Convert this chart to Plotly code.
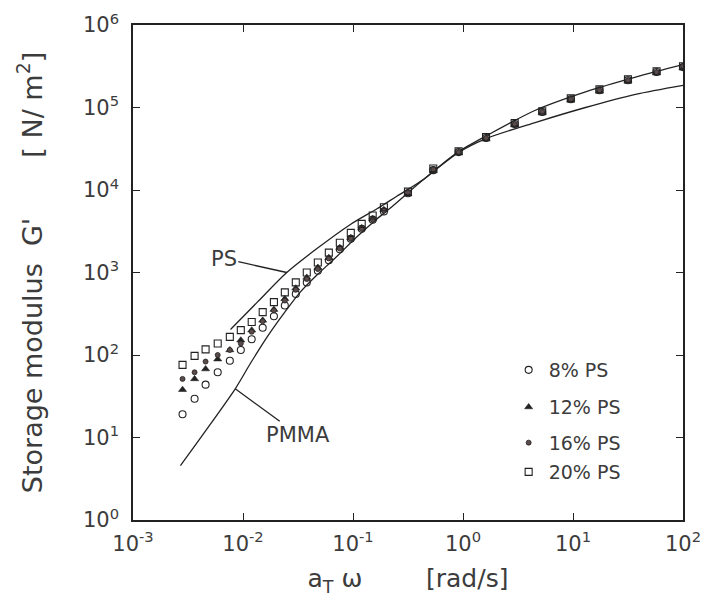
import math
import plotly.graph_objects as go

# ---------------- data ----------------
# model curves
ps_x = [0.0077, 0.0135, 0.025, 0.047, 0.094, 0.164, 0.25, 0.44, 0.6, 0.9, 1.6, 4.6, 13, 37, 100]
ps_y = [204, 437, 1000, 1950, 3800, 5890, 8400, 13500, 19000, 28800, 44700, 93300, 155000, 234000, 331000]

pmma_x = [0.0027, 0.0045, 0.0085, 0.0117, 0.0166, 0.0237, 0.033, 0.047, 0.067, 0.108, 0.164, 0.234,
          0.44, 0.9, 1.6, 4.6, 13, 37, 100]
pmma_y = [4.57, 11.7, 38.9, 79.4, 166, 324, 575, 933, 1445, 2690, 4420, 6530,
          13500, 28200, 41700, 66100, 100000, 144500, 186000]

# measured blends
freq = [0.00282, 0.00363, 0.00457, 0.00589, 0.00759, 0.00955, 0.0120, 0.0151, 0.0191, 0.0240,
        0.0302, 0.0380, 0.0479, 0.0603, 0.0759, 0.0955, 0.120, 0.151, 0.191, 0.316,
        0.537, 0.912, 1.62, 2.95, 5.25, 9.55, 17.4, 31.6, 57.5, 100]

g_8 = [19.1, 29.5, 43.7, 61.7, 85.1, 115, 155, 214, 295, 398,
       550, 759, 1050, 1410, 1910, 2570, 3390, 4370, 5500, 9120,
       17400, 28800, 42700, 63100, 88100, 126000, 162000, 214000, 269000, 309000]
g_12 = [38.0, 51.3, 67.6, 89.1, 115, 151, 200, 263, 355, 479,
        646, 871, 1150, 1510, 2000, 2630, 3470, 4470, 5750, 8910,
        17000, 28200, 41700, 61700, 87100, 123000, 158000, 209000, 263000, 302000]
g_16 = [51.3, 61.7, 83.2, 100, 115, 138, 191, 257, 347, 457,
        617, 832, 1100, 1480, 1950, 2570, 3390, 4370, 5620, 9330,
        17800, 28800, 42700, 63100, 89100, 126000, 162000, 214000, 269000, 316000]
g_20 = [75.9, 97.7, 117, 138, 166, 200, 251, 331, 437, 575,
        759, 1000, 1320, 1740, 2290, 3020, 3890, 4900, 6170, 9550,
        18200, 29500, 43700, 64600, 90200, 129000, 166000, 219000, 275000, 316000]

series_names = ["8% PS", "12% PS", "16% PS", "20% PS"]
x_tick_vals = [1e-3, 1e-2, 1e-1, 1e0, 1e1, 1e2]
x_tick_text = ["10<sup>-3</sup>", "10<sup>-2</sup>", "10<sup>-1</sup>", "10<sup>0</sup>", "10<sup>1</sup>", "10<sup>2</sup>"]
y_tick_vals = [1e0, 1e1, 1e2, 1e3, 1e4, 1e5, 1e6]
y_tick_text = ["10<sup>0</sup>", "10<sup>1</sup>", "10<sup>2</sup>", "10<sup>3</sup>", "10<sup>4</sup>", "10<sup>5</sup>", "10<sup>6</sup>"]

# ---------------- figure ----------------
FONT = "DejaVu Sans"
INK = "#222222"
TXT = "#3c3c3c"
NB = "\u00a0"

fig = go.Figure()

fig.add_trace(go.Scatter(x=ps_x, y=ps_y, mode="lines",
                         line=dict(color=INK, width=1.3, shape="spline", smoothing=0.8),
                         showlegend=False, hoverinfo="skip"))
fig.add_trace(go.Scatter(x=pmma_x, y=pmma_y, mode="lines",
                         line=dict(color=INK, width=1.3, shape="spline", smoothing=0.8),
                         showlegend=False, hoverinfo="skip"))

styles = [
    dict(symbol="circle-open", size=7, color=INK, line=dict(width=1.1, color=INK)),
    dict(symbol="triangle-up", size=7, color=INK, line=dict(width=0.6, color=INK)),
    dict(symbol="circle", size=5, color="#5a4a4a", line=dict(width=0.8, color=INK)),
    dict(symbol="square-open", size=7, color=INK, line=dict(width=1.1, color=INK)),
]
data_sets = [g_8, g_12, g_16, g_20]
legends = ["legend", "legend2", "legend3", "legend4"]
for name, ys, st, lg in zip(series_names, data_sets, styles, legends):
    fig.add_trace(go.Scatter(x=freq, y=ys, mode="markers", name=name, marker=st, legend=lg))

axis_common = dict(
    showgrid=False, zeroline=False, showline=True, mirror="ticks", automargin=False,
    linecolor=INK, linewidth=1.5, ticks="inside", ticklen=7, tickwidth=1.2, tickcolor=INK,
    tickfont=dict(family=FONT, size=21, color=TXT), ticklabeloverflow="allow",
)

fig.update_xaxes(type="log", range=[-3, 2], tickvals=x_tick_vals, ticktext=x_tick_text,
                 title=dict(text=NB * 5 + "a<sub>T</sub> ω" + NB * 8 + "[rad/s]",
                            font=dict(family=FONT, size=25, color=TXT), standoff=15),
                 ticklabelstandoff=4, **axis_common)
fig.update_yaxes(type="log", range=[0, 6], tickvals=y_tick_vals, ticktext=y_tick_text,
                 title=dict(text="Storage modulus" + NB * 2 + "G'" + NB * 7 + "[" + NB + "N/" + NB + "m<sup>2</sup>]",
                            font=dict(family=FONT, size=27, color=TXT), standoff=33),
                 ticklabelstandoff=8, **axis_common)

leg_font = dict(family=FONT, size=19, color=TXT)
leg_pos = [0.303, 0.228, 0.156, 0.097]
layout_legends = {}
for lg, yy in zip(legends, leg_pos):
    layout_legends[lg] = dict(x=0.683, y=yy, xanchor="left", yanchor="middle", font=leg_font,
                              bgcolor="rgba(0,0,0,0)", borderwidth=0, itemwidth=30)

# page body has an 8px default margin: size the figure so it fits the 713x606 window
fig.update_layout(
    width=697, height=590,
    margin=dict(l=125, r=22, t=17, b=78, autoexpand=False),
    paper_bgcolor="white", plot_bgcolor="white",
    showlegend=True,
    **layout_legends,
)

fig.add_annotation(x=math.log10(ps_x[2]), y=math.log10(ps_y[2]), xref="x", yref="y",
                   text="PS", showarrow=True, arrowhead=0, arrowwidth=1.3, arrowcolor=INK,
                   ax=-63, ay=-14, font=dict(family=FONT, size=21, color=TXT))
fig.add_annotation(x=math.log10(pmma_x[2]), y=math.log10(pmma_y[2]), xref="x", yref="y",
                   text="PMMA", showarrow=True, arrowhead=0, arrowwidth=1.3, arrowcolor=INK,
                   ax=63, ay=46, font=dict(family=FONT, size=21, color=TXT))

fig.write_html("out.html")
